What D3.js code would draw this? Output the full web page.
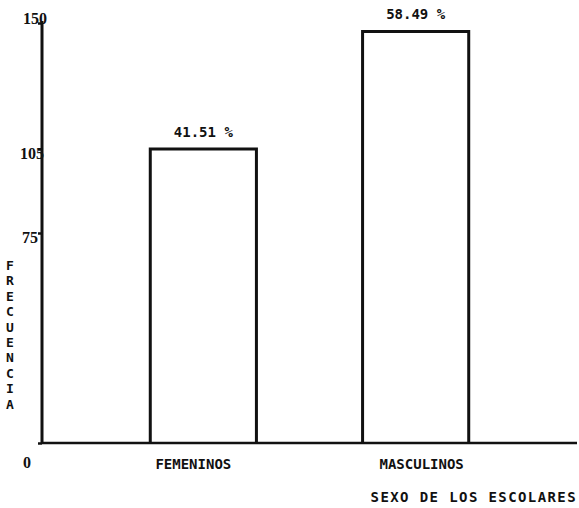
<!DOCTYPE html>
<html>
<head>
<meta charset="utf-8">
<script src="https://cdn.jsdelivr.net/npm/d3@7"></script>
<style>
  body { margin: 0; background: #fff; }
  svg text { font-family: "DejaVu Sans Mono", "Liberation Mono", monospace; font-weight: bold; fill: #111; }
</style>
</head>
<body>
<svg id="chart" width="579" height="508"></svg>
<script>
// datos del grafico
const categorias = ["FEMENINOS", "MASCULINOS"];
const frecuencias = [105, 147];
const porcentajes = ["41.51 %", "58.49 %"];
const marcasY = [0, 75, 105, 150];
const tituloY = "FRECUENCIA";
const tituloX = "SEXO DE LOS ESCOLARES";

const svg = d3.select("#chart");

// escalas
const y = d3.scaleLinear().domain([0, 150]).range([443, 23]);
const x = d3.scaleBand()
    .domain(categorias)
    .range([42, 577])
    .paddingInner(0.5)
    .paddingOuter(0.51);

// eje X (solo la linea)
svg.append("line")
    .attr("x1", 42).attr("x2", 577)
    .attr("y1", y(0)).attr("y2", y(0))
    .attr("stroke", "#111").attr("stroke-width", 2.5);

// barras sin relleno
svg.selectAll(".bar")
    .data(frecuencias)
    .enter()
    .append("path")
      .attr("class", "bar")
      .attr("d", (d, i) => {
          const x0 = x(categorias[i]), x1 = x0 + x.bandwidth();
          return `M${x0},${y(0)}V${y(d)}H${x1}V${y(0)}`;
      })
      .attr("fill", "none")
      .attr("stroke", "#111")
      .attr("stroke-width", 3);

// porcentajes encima de cada barra
svg.selectAll(".pct")
    .data(porcentajes)
    .enter()
    .append("text")
      .attr("x", (d, i) => x(categorias[i]) + x.bandwidth() / 2)
      .attr("y", (d, i) => y(frecuencias[i]) - 12)
      .attr("text-anchor", "middle")
      .style("font-size", "14px")
      .text(d => d);

// nombres de categorias (un poco corridos como en el original)
svg.selectAll(".cat")
    .data(categorias)
    .enter()
    .append("text")
      .attr("x", d => x(d) + x.bandwidth() / 2)
      .attr("dx", (d, i) => i === 0 ? -10 : 6)
      .attr("y", y(0) + 26)
      .attr("text-anchor", "middle")
      .style("font-size", "14px")
      .text(d => d);

// eje Y
const ejeY = svg.append("g")
    .attr("transform", "translate(42,0)")
    .call(d3.axisLeft(y).tickValues(marcasY).tickSize(4).tickPadding(2));
ejeY.select(".domain")
    .attr("d", `M0,${y(150) - 2}V${y(0)}`)
    .attr("stroke", "#111").attr("stroke-width", 3);
ejeY.selectAll(".tick line").attr("stroke", "#111").attr("stroke-width", 2.5);
ejeY.selectAll(".tick text")
    .style("font-size", "16px")
    .style("font-family", "'Liberation Serif', serif")
    .style("font-weight", "bold")
    .attr("dy", d => d === 0 ? "1.55em" : d === 150 ? "0em" : "0.6em")
    .attr("x", d => d === 0 ? -11 : d === 150 ? 5 : d === 105 ? 2 : -4);

// titulo eje Y en letras apiladas
svg.append("g").selectAll("text")
    .data(tituloY.split(""))
    .enter()
    .append("text")
      .attr("x", 10)
      .attr("y", (d, i) => 270 + i * 15.4)
      .attr("text-anchor", "middle")
      .style("font-size", "13px")
      .text(d => d);

// titulo eje X
svg.append("text")
    .attr("x", 577)
    .attr("y", 502)
    .attr("text-anchor", "end")
    .style("font-size", "14px")
    .style("letter-spacing", "1.4px")
    .text(tituloX);
</script>
</body>
</html>
